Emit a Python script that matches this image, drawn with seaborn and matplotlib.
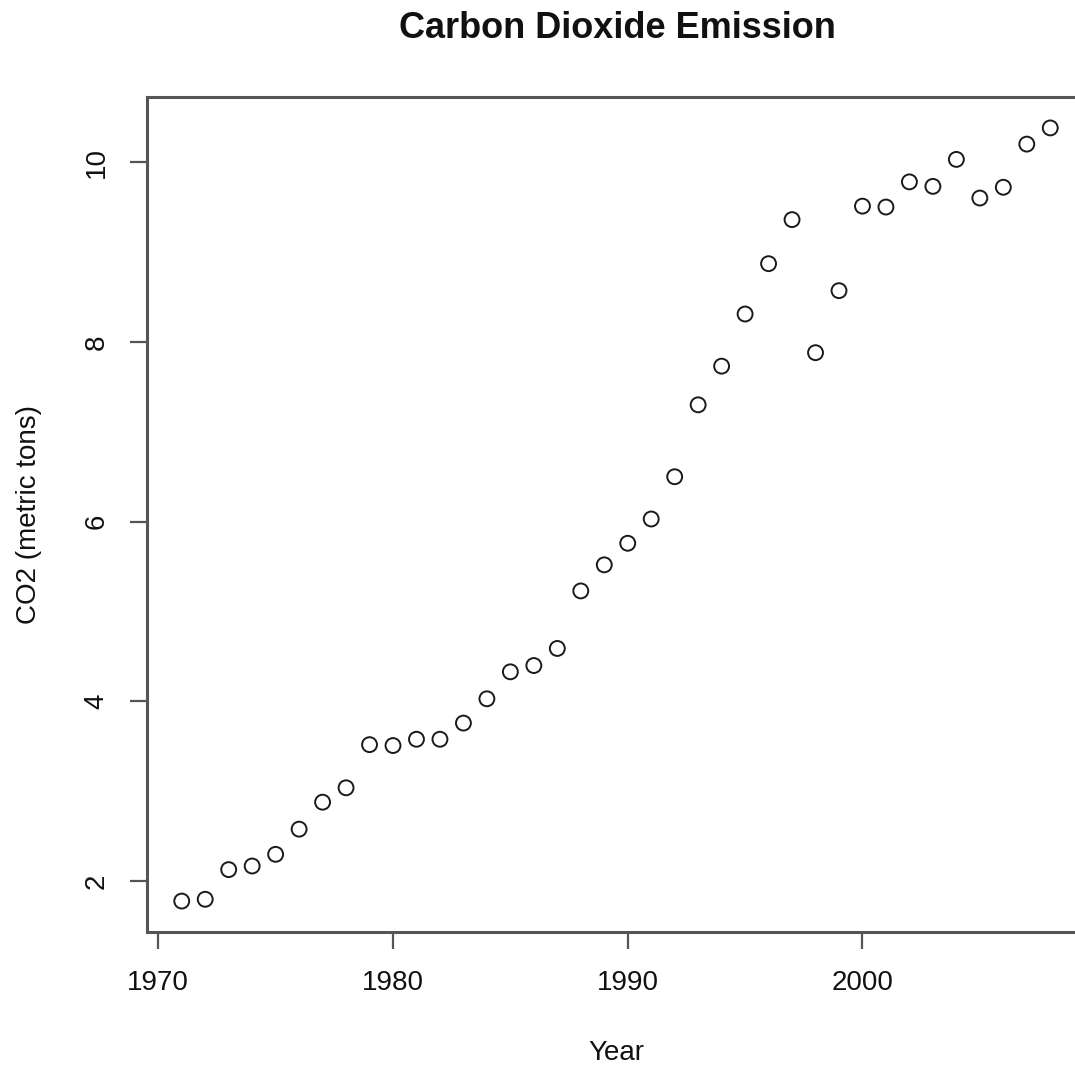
import matplotlib
matplotlib.use("Agg")
import matplotlib.pyplot as plt
import seaborn as sns
import pandas as pd

years = list(range(1971, 2009))
co2 = [1.78, 1.80, 2.13, 2.17, 2.30, 2.58, 2.88, 3.04, 3.52, 3.51,
       3.58, 3.58, 3.76, 4.03, 4.33, 4.40, 4.59, 5.23, 5.52, 5.76,
       6.03, 6.50, 7.30, 7.73, 8.31, 8.87, 9.36, 7.88, 8.57, 9.51,
       9.50, 9.78, 9.73, 10.03, 9.60, 9.72, 10.20, 10.38]
x_ticks = [1970, 1980, 1990, 2000]
y_ticks = [2, 4, 6, 8, 10]

df = pd.DataFrame({"Year": years, "CO2": co2})

sns.set_style("white")
plt.rcParams["font.family"] = ["Liberation Sans", "DejaVu Sans"]

fig = plt.figure(figsize=(10.75, 10.67), dpi=100)
ax = fig.add_axes([147/1075, 135/1067, (1085-147)/1075, (931-96)/1067])

sns.scatterplot(data=df, x="Year", y="CO2", ax=ax, marker="o", s=115,
                facecolors="none", edgecolor="#1a1a1a", linewidth=1.4)

xr = max(years) - min(years)
yr = max(co2) - min(co2)
ax.set_xlim(min(years) - 0.04 * xr, max(years) + 0.04 * xr)
ax.set_ylim(min(co2) - 0.04 * yr, max(co2) + 0.04 * yr)
ax.set_xticks(x_ticks)
ax.set_yticks(y_ticks)
ax.set_yticklabels([str(v) for v in y_ticks], rotation=90, va="center")

for sp in ax.spines.values():
    sp.set_color("#555555")
    sp.set_linewidth(2.2)

ax.tick_params(axis="both", direction="out", length=12, width=1.6,
               color="#555555", labelsize=20, labelcolor="#111111", pad=15)
ax.tick_params(axis="x", bottom=True)
ax.tick_params(axis="y", left=True)

ax.set_xlabel("Year", fontsize=20, color="#111111", labelpad=32)
ax.set_ylabel("CO2 (metric tons)", fontsize=20, color="#111111", labelpad=30)

fig.text(617/1075, 1 - 29/1067, "Carbon Dioxide Emission", ha="center", va="center",
         fontsize=26, fontweight="bold", color="#111111")

fig.savefig("out.png", dpi=100, facecolor="white")
